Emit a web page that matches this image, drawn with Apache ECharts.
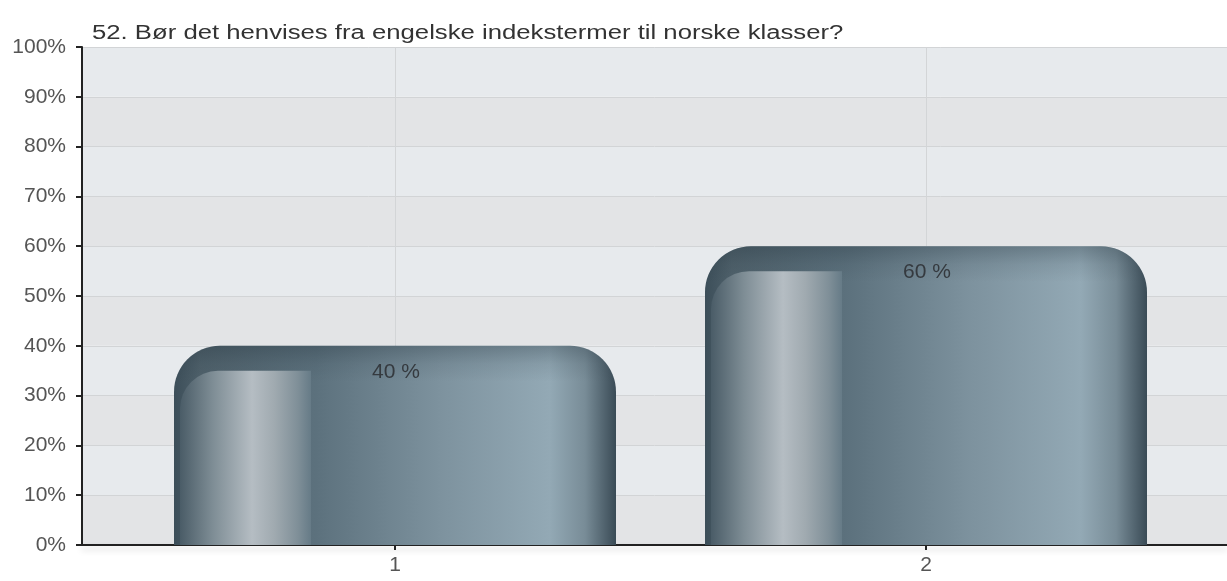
<!DOCTYPE html>
<html>
<head>
<meta charset="utf-8">
<script src="https://cdn.jsdelivr.net/npm/echarts@6/dist/echarts.min.js"></script>
<style>
  html, body { margin: 0; padding: 0; background: #fff; }
  #chart { width: 1227px; height: 581px; }
</style>
</head>
<body>
<div id="chart"></div>
<script>
const titleText = '52. Bør det henvises fra engelske indekstermer til norske klasser?';
const categories = ['1', '2'];
const percentValues = [40, 60];
const yTicks = { min: 0, max: 100, step: 10 };

const FONT = 'Liberation Sans, Arial, sans-serif';
const BAR_W = 442;

const chart = echarts.init(document.getElementById('chart'));

const barFill = new echarts.graphic.LinearGradient(0, 0, 1, 0, [
    { offset: 0, color: '#3c4e59' },
    { offset: 0.06, color: '#4f616b' },
    { offset: 0.32, color: '#5c717d' },
    { offset: 0.6, color: '#7d929e' },
    { offset: 0.85, color: '#93a9b5' },
    { offset: 0.93, color: '#788c97' },
    { offset: 1, color: '#3a4b56' }
]);

// top shade + left glossy strip + value text, drawn over each bar
function renderGloss(params, api) {
    const value = api.value(1);
    const top = api.coord([api.value(0), value]);
    const base = api.coord([api.value(0), 0]);
    const left = top[0] - BAR_W / 2;
    const hlTop = top[1] + 25;
    return {
        type: 'group',
        children: [
            {
                type: 'rect',
                shape: { x: left, y: top[1], width: BAR_W, height: 60, r: [46, 46, 0, 0] },
                style: {
                    fill: new echarts.graphic.LinearGradient(0, 0, 0, 1, [
                        { offset: 0, color: 'rgba(35,50,60,0.32)' },
                        { offset: 0.3, color: 'rgba(35,50,60,0.1)' },
                        { offset: 0.6, color: 'rgba(35,50,60,0)' },
                        { offset: 1, color: 'rgba(35,50,60,0)' }
                    ])
                }
            },
            {
                type: 'rect',
                shape: { x: left + 6, y: hlTop, width: 131, height: base[1] - hlTop, r: [38, 0, 0, 0] },
                style: {
                    fill: new echarts.graphic.LinearGradient(0, 0, 1, 0, [
                        { offset: 0, color: '#4a5c67' },
                        { offset: 0.25, color: '#7e8d95' },
                        { offset: 0.55, color: '#b5bdc3' },
                        { offset: 0.72, color: '#a0aab0' },
                        { offset: 0.9, color: '#7f8f98' },
                        { offset: 1, color: '#667b87' }
                    ])
                }
            },
            {
                type: 'text',
                style: {
                    text: value + ' %',
                    x: top[0] + 1,
                    y: top[1] + 26,
                    align: 'center',
                    verticalAlign: 'middle',
                    fill: '#353a3f',
                    fontSize: 21,
                    fontFamily: FONT
                }
            }
        ]
    };
}

const option = {
    animation: false,
    textStyle: { fontFamily: FONT },
    graphic: [
        {
            type: 'text',
            x: 92,
            y: 33,
            scaleX: 1.285,
            style: {
                text: titleText,
                fontSize: 20,
                fontFamily: FONT,
                fill: '#333',
                verticalAlign: 'middle'
            }
        }
    ],
    grid: [
        { left: 82, right: 0, top: 47, bottom: 36 },
        { left: 395, width: 531, top: 47, bottom: 36 }
    ],
    xAxis: [
        {
            type: 'value', gridIndex: 0, min: 0, max: 1,
            axisLine: { show: true, lineStyle: { color: '#222', width: 2, shadowColor: 'rgba(0,0,0,0.18)', shadowBlur: 6, shadowOffsetY: 4 } },
            axisTick: { show: false }, axisLabel: { show: false }, splitLine: { show: false }
        },
        {
            type: 'category', gridIndex: 1, data: categories, boundaryGap: false,
            axisLine: { show: false },
            axisTick: { show: true, length: 5, lineStyle: { color: '#222', width: 2 } },
            axisLabel: { fontSize: 21, color: '#555', margin: 10 },
            splitLine: { show: true, lineStyle: { color: '#d3d5d7', width: 1 } }
        }
    ],
    yAxis: [
        {
            type: 'value', gridIndex: 0, min: yTicks.min, max: yTicks.max, interval: yTicks.step,
            axisLine: { show: true, lineStyle: { color: '#222', width: 2 } },
            axisTick: { show: true, length: 6, lineStyle: { color: '#222', width: 2 } },
            axisLabel: { formatter: '{value}%', fontSize: 21, color: '#555', margin: 16 },
            splitLine: { show: true, lineStyle: { color: '#d2d4d6', width: 1 } },
            splitArea: { show: true, areaStyle: { color: ['#e3e4e6', '#e7eaed'] } }
        },
        {
            type: 'value', gridIndex: 1, min: yTicks.min, max: yTicks.max, show: false
        }
    ],
    series: [
        {
            type: 'bar',
            xAxisIndex: 1,
            yAxisIndex: 1,
            data: percentValues,
            barWidth: BAR_W,
            clip: false,
            z: 2,
            itemStyle: { color: barFill, borderRadius: [46, 46, 0, 0] }
        },
        {
            type: 'custom',
            xAxisIndex: 1,
            yAxisIndex: 1,
            clip: false,
            z: 3,
            data: percentValues.map((v, i) => [i, v]),
            renderItem: renderGloss
        }
    ]
};

chart.setOption(option);
window.addEventListener('resize', () => chart.resize());
</script>
</body>
</html>
